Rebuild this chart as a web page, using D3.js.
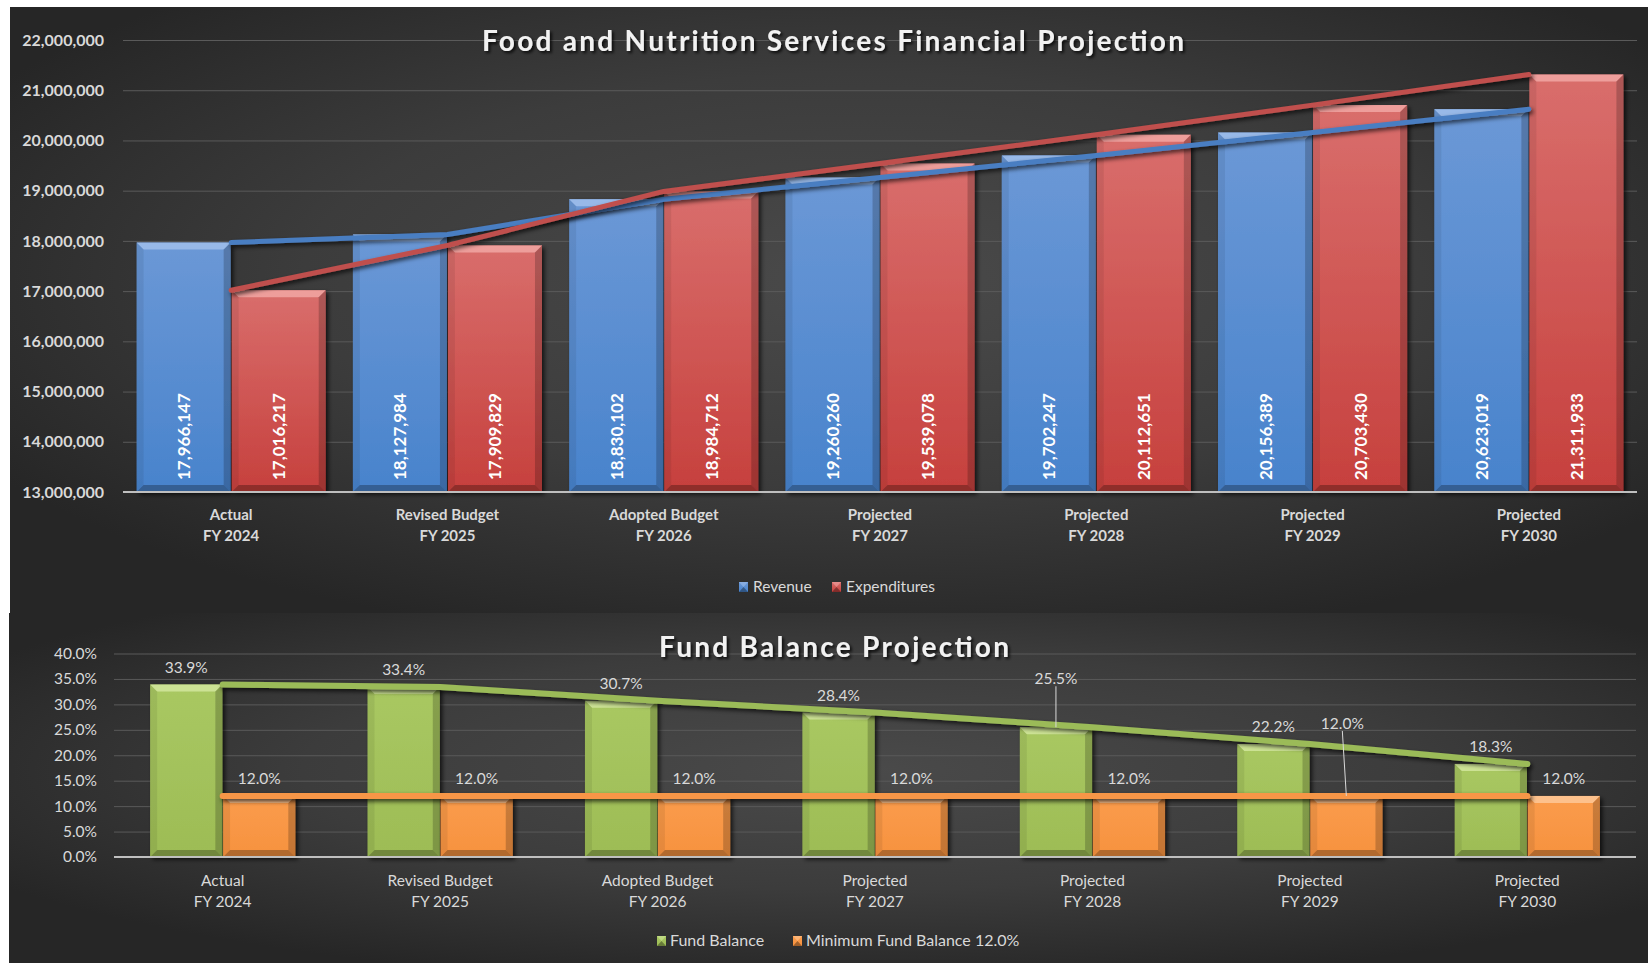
<!DOCTYPE html>
<html><head><meta charset="utf-8">
<script src="https://cdn.jsdelivr.net/npm/d3@7"></script>
<style>
body{margin:0;background:#fff;}
svg{display:block;}
text{font-family:Lato,"Open Sans",sans-serif;}
</style>
</head><body>
<svg id="c" width="1648" height="963"></svg>
<script>
// ---------------- DATA ----------------
const catLine1 = ["Actual","Revised Budget","Adopted Budget","Projected","Projected","Projected","Projected"];
const catLine2 = ["FY 2024","FY 2025","FY 2026","FY 2027","FY 2028","FY 2029","FY 2030"];
const revenue = [17966147,18127984,18830102,19260260,19702247,20156389,20623019];
const expenditures = [17016217,17909829,18984712,19539078,20112651,20703430,21311933];
const fundBalance = [33.9,33.4,30.7,28.4,25.5,22.2,18.3];
const minFundBalance = [12.0,12.0,12.0,12.0,12.0,12.0,12.0];
const topTicks = [13000000,14000000,15000000,16000000,17000000,18000000,19000000,20000000,21000000,22000000];
const bottomTicks = [0,5,10,15,20,25,30,35,40];
const topSeries = ["Revenue","Expenditures"];
const bottomSeries = ["Fund Balance","Minimum Fund Balance 12.0%"];

// --------------- SETUP ----------------
const svg = d3.select("#c");
const defs = svg.append("defs");
const cats = catLine2.map((d,i)=>i);

function radial(id){
  const g = defs.append("radialGradient").attr("id",id).attr("cx","52%").attr("cy","45%").attr("r","62%");
  g.append("stop").attr("offset","0%").attr("stop-color","#4a4a4a");
  g.append("stop").attr("offset","55%").attr("stop-color","#3c3c3c");
  g.append("stop").attr("offset","100%").attr("stop-color","#262626");
}
radial("bgTop"); radial("bgBot");
function vgrad(id, c1, c2){
  const g = defs.append("linearGradient").attr("id",id).attr("x1",0).attr("y1",0).attr("x2",0).attr("y2",1);
  g.append("stop").attr("offset","0%").attr("stop-color",c1);
  g.append("stop").attr("offset","100%").attr("stop-color",c2);
}
vgrad("gBlue","#6b98d6","#4883cc");
vgrad("gRed","#d96e6c","#c6403d");
vgrad("gGreen","#a9c862","#9dbc55");
vgrad("gOrange","#fb9c4c","#f6923f");

const sh = defs.append("filter").attr("id","shadow").attr("x","-20%").attr("y","-20%").attr("width","140%").attr("height","140%");
sh.append("feDropShadow").attr("dx",2.5).attr("dy",2.5).attr("stdDeviation",2).attr("flood-color","#000").attr("flood-opacity",0.7);
const lsh = defs.append("filter").attr("id","lshadow").attr("filterUnits","userSpaceOnUse")
  .attr("x",0).attr("y",0).attr("width",1648).attr("height",963);
lsh.append("feDropShadow").attr("dx",2).attr("dy",2.5).attr("stdDeviation",2).attr("flood-color","#000").attr("flood-opacity",0.7);
const tsh = defs.append("filter").attr("id","tshadow").attr("x","-5%").attr("y","-30%").attr("width","110%").attr("height","160%");
tsh.append("feDropShadow").attr("dx",2).attr("dy",2).attr("stdDeviation",1.5).attr("flood-color","#000").attr("flood-opacity",0.8);

// panels
svg.append("rect").attr("x",10).attr("y",7).attr("width",1638).attr("height",606).attr("fill","url(#bgTop)");
svg.append("rect").attr("x",9).attr("y",613).attr("width",1639).attr("height",350).attr("fill","url(#bgBot)");

function bevelBar(g, x, y, w, h, grad, hi){
  const b = Math.min(7, h/2);
  const bar = g.append("g").attr("filter","url(#shadow)");
  bar.append("rect").attr("x",x).attr("y",y).attr("width",w).attr("height",h).attr("fill",`url(#${grad})`);
  bar.append("path").attr("d",`M${x},${y}L${x+w},${y}L${x+w-b},${y+b}L${x+b},${y+b}Z`).attr("fill",hi).attr("opacity",0.9);
  bar.append("path").attr("d",`M${x},${y}L${x+b},${y+b}L${x+b},${y+h-b}L${x},${y+h}Z`).attr("fill","#000").attr("opacity",0.07);
  bar.append("path").attr("d",`M${x+w},${y}L${x+w-b},${y+b}L${x+w-b},${y+h-b}L${x+w},${y+h}Z`).attr("fill","#000").attr("opacity",0.2);
  bar.append("path").attr("d",`M${x},${y+h}L${x+b},${y+h-b}L${x+w-b},${y+h-b}L${x+w},${y+h}Z`).attr("fill","#000").attr("opacity",0.28);
}

function legendMarker(g, x, y, grad, hi){
  g.append("rect").attr("x",x).attr("y",y).attr("width",9).attr("height",10).attr("fill",`url(#${grad})`);
  g.append("path").attr("d",`M${x},${y}L${x+9},${y}L${x+4.5},${y+5}Z`).attr("fill",hi).attr("opacity",0.6);
  g.append("path").attr("d",`M${x},${y+10}L${x+9},${y+10}L${x+4.5},${y+5}Z`).attr("fill","#000").attr("opacity",0.35);
}

// ================= TOP CHART =================
{
  const g = svg.append("g");
  const x = d3.scaleBand().domain(cats).range([123,1637]).paddingInner(0).paddingOuter(0);
  const xs = d3.scaleBand().domain(topSeries).range([0,x.bandwidth()]).paddingInner(0.01).paddingOuter(0.143);
  const y = d3.scaleLinear().domain([13000000,22000000]).range([492,40]);

  const grid = g.append("g").attr("transform","translate(123,0)")
    .call(d3.axisLeft(y).tickValues(topTicks.slice(1)).tickSize(-1514).tickFormat(""));
  grid.select(".domain").remove();
  grid.selectAll("line").attr("stroke","#5a5a5a").attr("stroke-width",1);

  const ya = g.append("g").attr("transform","translate(104,0)")
    .call(d3.axisLeft(y).tickValues(topTicks).tickSize(0).tickPadding(0).tickFormat(d3.format(",")));
  ya.select(".domain").remove();
  ya.selectAll("text").attr("fill","#d9d9d9").style("font-size","16px").style("font-weight","700").style("font-family","Lato");

  const series = [
    {vals:revenue, key:"Revenue", grad:"gBlue", hi:"#9dbdea"},
    {vals:expenditures, key:"Expenditures", grad:"gRed", hi:"#f0a3a1"}
  ];
  series.forEach(s=>{
    s.vals.forEach((v,i)=>{
      const bx = x(i)+xs(s.key);
      bevelBar(g, bx, y(v), xs.bandwidth(), y(13000000)-y(v), s.grad, s.hi);
    });
  });

  g.append("line").attr("x1",123).attr("x2",1637).attr("y1",y(13000000)).attr("y2",y(13000000))
    .attr("stroke","#bfbfbf").attr("stroke-width",2);

  series.forEach(s=>{
    s.vals.forEach((v,i)=>{
      const cx = x(i)+xs(s.key)+xs.bandwidth()/2;
      const ty = y(13000000)-12;
      g.append("text").attr("transform",`translate(${cx},${ty}) rotate(-90)`)
        .attr("text-anchor","start").attr("dominant-baseline","central")
        .attr("fill","#ffffff").style("font-size","17px").style("font-weight","700")
        .text(d3.format(",")(v));
    });
  });

  const line = d3.line().x((d,i)=>x(i)+x.bandwidth()/2).y(d=>y(d));
  g.append("path").datum(revenue).attr("d",line).attr("fill","none").attr("stroke","#4a7ec2")
    .attr("stroke-width",5).attr("stroke-linecap","round").attr("stroke-linejoin","round").attr("filter","url(#lshadow)");
  g.append("path").datum(expenditures).attr("d",line).attr("fill","none").attr("stroke","#c0504d")
    .attr("stroke-width",5).attr("stroke-linecap","round").attr("stroke-linejoin","round").attr("filter","url(#lshadow)");

  cats.forEach(i=>{
    const t = g.append("text").attr("text-anchor","middle")
      .attr("fill","#d9d9d9").style("font-size","15px").style("font-weight","700");
    t.append("tspan").attr("x",x(i)+x.bandwidth()/2).attr("y",520).text(catLine1[i]);
    t.append("tspan").attr("x",x(i)+x.bandwidth()/2).attr("y",541).text(catLine2[i]);
  });

  g.append("text").attr("x",833).attr("y",51).attr("text-anchor","middle")
    .attr("textLength",702).attr("lengthAdjust","spacing")
    .attr("fill","#f2f2f2").style("font-size","28px").style("font-weight","700").attr("filter","url(#tshadow)")
    .text("Food and Nutrition Services Financial Projection");

  const lg = g.append("g");
  legendMarker(lg, 739, 582, "gBlue", "#9dbdea");
  lg.append("text").attr("x",753).attr("y",592).attr("fill","#d9d9d9").style("font-size","15.5px").text(topSeries[0]);
  legendMarker(lg, 832, 582, "gRed", "#f0a3a1");
  lg.append("text").attr("x",846).attr("y",592).attr("fill","#d9d9d9").style("font-size","15.5px").text(topSeries[1]);
}

// ================= BOTTOM CHART =================
{
  const g = svg.append("g");
  const x = d3.scaleBand().domain(cats).range([114,1636]).paddingInner(0).paddingOuter(0);
  const xs = d3.scaleBand().domain(bottomSeries).range([0,x.bandwidth()]).paddingInner(0.01).paddingOuter(0.495);
  const y = d3.scaleLinear().domain([0,40]).range([857,653.5]);

  const grid = g.append("g").attr("transform","translate(114,0)")
    .call(d3.axisLeft(y).tickValues(bottomTicks.slice(1)).tickSize(-1522).tickFormat(""));
  grid.select(".domain").remove();
  grid.selectAll("line").attr("stroke","#5a5a5a").attr("stroke-width",1);

  const ya = g.append("g").attr("transform","translate(97,0)")
    .call(d3.axisLeft(y).tickValues(bottomTicks).tickSize(0).tickPadding(0).tickFormat(d=>d3.format(".1f")(d)+"%"));
  ya.select(".domain").remove();
  ya.selectAll("text").attr("fill","#d9d9d9").style("font-size","15.5px").style("font-family","Lato");

  const series = [
    {vals:fundBalance, key:bottomSeries[0], grad:"gGreen", hi:"#cfe49a"},
    {vals:minFundBalance, key:bottomSeries[1], grad:"gOrange", hi:"#fdc593"}
  ];
  series.forEach(s=>{
    s.vals.forEach((v,i)=>{
      bevelBar(g, x(i)+xs(s.key), y(v), xs.bandwidth(), y(0)-y(v), s.grad, s.hi);
    });
  });

  g.append("line").attr("x1",114).attr("x2",1636).attr("y1",y(0)).attr("y2",y(0))
    .attr("stroke","#bfbfbf").attr("stroke-width",2);

  const line = d3.line().x((d,i)=>x(i)+x.bandwidth()/2).y(d=>y(d));
  g.append("path").datum(fundBalance).attr("d",line).attr("fill","none").attr("stroke","#9bbb59")
    .attr("stroke-width",6).attr("stroke-linecap","round").attr("stroke-linejoin","round").attr("filter","url(#lshadow)");
  g.append("path").datum(minFundBalance).attr("d",line).attr("fill","none").attr("stroke","#f79646")
    .attr("stroke-width",6).attr("stroke-linecap","round").attr("stroke-linejoin","round").attr("filter","url(#lshadow)");

  // label displacement (series index - point index) -> extra offset, drawn with a leader line
  const moved = {"0-4":[0,-31], "1-5":[-4,-55]};
  series.forEach((s,si)=>{
    s.vals.forEach((v,i)=>{
      const cx = x(i)+xs(s.key)+xs.bandwidth()/2;
      const top = y(v);
      const off = moved[si+"-"+i] || [0,0];
      const lx = cx+off[0], ly = top-18+off[1];
      if(off[1]!==0){
        g.append("line").attr("x1",lx).attr("y1",ly+8).attr("x2",cx).attr("y2",top)
          .attr("stroke","#d9d9d9").attr("stroke-width",1);
      }
      g.append("text").attr("x",lx).attr("y",ly).attr("text-anchor","middle").attr("dominant-baseline","central")
        .attr("fill","#d9d9d9").style("font-size","15.5px").text(d3.format(".1f")(v)+"%");
    });
  });

  cats.forEach(i=>{
    const t = g.append("text").attr("text-anchor","middle").attr("fill","#d9d9d9").style("font-size","15.5px");
    t.append("tspan").attr("x",x(i)+x.bandwidth()/2).attr("y",886).text(catLine1[i]);
    t.append("tspan").attr("x",x(i)+x.bandwidth()/2).attr("y",907).text(catLine2[i]);
  });

  g.append("text").attr("x",834).attr("y",657).attr("text-anchor","middle")
    .attr("textLength",350).attr("lengthAdjust","spacing")
    .attr("fill","#f2f2f2").style("font-size","28px").style("font-weight","700").attr("filter","url(#tshadow)")
    .text("Fund Balance Projection");

  const lg = g.append("g");
  legendMarker(lg, 657, 936, "gGreen", "#cfe49a");
  lg.append("text").attr("x",670).attr("y",946).attr("fill","#d9d9d9").style("font-size","16px").text(bottomSeries[0]);
  legendMarker(lg, 793, 936, "gOrange", "#fdc593");
  lg.append("text").attr("x",806).attr("y",946).attr("fill","#d9d9d9").style("font-size","16px").text(bottomSeries[1]);
}
</script>
</body></html>
